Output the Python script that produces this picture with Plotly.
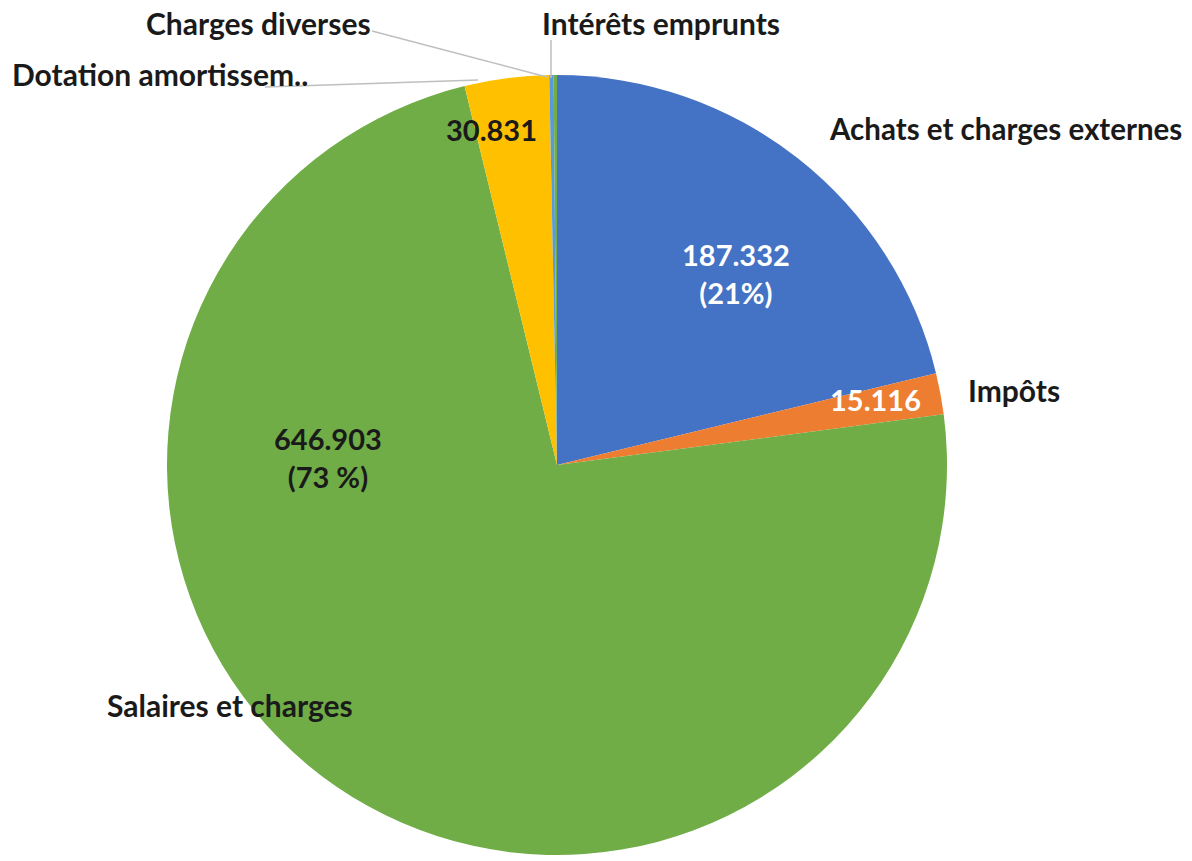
import plotly.graph_objects as go

labels = ["Achats et charges externes", "Impôts", "Salaires et charges",
          "Dotation amortissem..", "Charges diverses", "Intérêts emprunts"]
values = [187.332, 15.116, 646.903, 30.831, 1.6, 1.2]
colors = ["#4472C4", "#ED7D31", "#70AD47", "#FFC000", "#5B9BD5", "#70AD47"]
value_texts = ["187.332<br>(21%)", "15.116", "646.903<br>(73 %)", "30.831", "", ""]

W, H = 1192, 861
cx, cy, R = 557, 465, 390

fig = go.Figure(go.Pie(
    labels=labels, values=values, sort=False, direction="clockwise", rotation=0,
    marker=dict(colors=colors, line=dict(width=0)),
    textinfo="none", hoverinfo="label+value", showlegend=False,
    domain=dict(x=[(cx - R) / W, (cx + R) / W], y=[(H - cy - R) / H, (H - cy + R) / H]),
))

FONT = "Lato"

def px(x, y):
    return x / W, 1 - y / H

def ann(text, x, y, color="#1a1a1a", xanchor="center", size=30):
    X, Y = px(x, y)
    fig.add_annotation(x=X, y=Y, xref="paper", yref="paper", text=f"<b>{text}</b>",
                       showarrow=False, xanchor=xanchor, yanchor="middle",
                       font=dict(family=FONT, size=size, color=color))

# category labels
ann(labels[0], 1184, 128, xanchor="right", size=29.5)
ann(labels[1], 1014, 390)
ann(labels[2], 230, 705)
ann(labels[3], 160, 74)
ann(labels[4], 258, 23)
ann(labels[5], 661, 23)

# value labels
ann(value_texts[0], 736, 273, color="white", size=29)
ann(value_texts[1], 875, 400, color="white", size=29)
ann(value_texts[2], 328, 457, size=29)
ann(value_texts[3], 491, 130, size=29)

# leader lines
def line(x0, y0, x1, y1):
    X0, Y0 = px(x0, y0)
    X1, Y1 = px(x1, y1)
    fig.add_shape(type="line", xref="paper", yref="paper", x0=X0, y0=Y0, x1=X1, y1=Y1,
                  line=dict(color="#BFBFBF", width=1.5))

line(372, 31, 547, 77)
line(265, 87, 478, 80)
line(551, 40, 551, 78)

fig.update_layout(width=W, height=H, margin=dict(l=0, r=0, t=0, b=0),
                  paper_bgcolor="white", plot_bgcolor="white")
fig.write_html("out.html", config={"displayModeBar": False},
               post_script="document.body.style.margin='0';")
